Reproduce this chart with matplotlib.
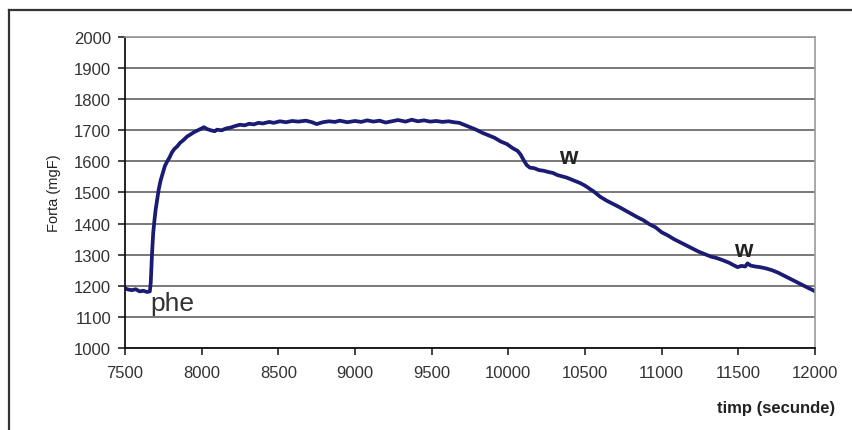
import numpy as np
import matplotlib
matplotlib.use("Agg")
import matplotlib.pyplot as plt
from matplotlib.lines import Line2D

plt.rcParams["font.family"] = ["Liberation Sans", "DejaVu Sans"]

# force trace (time in s, force in mgF), 10 per row
timp = [7500, 7520, 7545, 7570, 7595, 7620, 7645, 7662, 7668, 7676,
        7684, 7692, 7700, 7710, 7720, 7732, 7745, 7760, 7775, 7790,
        7805, 7822, 7840, 7860, 7880, 7905, 7925, 7950, 7975, 8000,
        8015, 8035, 8060, 8085, 8100, 8130, 8160, 8190, 8220, 8250,
        8280, 8310, 8340, 8370, 8400, 8440, 8470, 8510, 8550, 8590,
        8630, 8680, 8720, 8750, 8790, 8830, 8870, 8900, 8950, 9000,
        9040, 9080, 9120, 9160, 9200, 9240, 9280, 9330, 9370, 9410,
        9450, 9490, 9530, 9570, 9610, 9645, 9680, 9710, 9750, 9790,
        9830, 9870, 9910, 9950, 9990, 10030, 10060, 10080, 10100, 10120,
        10140, 10170, 10200, 10230, 10260, 10290, 10320, 10350, 10380, 10410,
        10440, 10470, 10500, 10530, 10560, 10600, 10640, 10680, 10720, 10760,
        10800, 10840, 10880, 10920, 10960, 11000, 11040, 11080, 11120, 11160,
        11200, 11240, 11280, 11320, 11360, 11400, 11440, 11470, 11495, 11520,
        11545, 11560, 11580, 11610, 11640, 11680, 11720, 11760, 11800, 11840,
        11880, 11920, 11960, 11990, 12000]
forta = [1192, 1188, 1186, 1189, 1182, 1184, 1180, 1182, 1210, 1300,
         1370, 1410, 1445, 1478, 1510, 1538, 1560, 1585, 1600, 1612,
         1628, 1640, 1648, 1660, 1668, 1680, 1686, 1694, 1700, 1706,
         1710, 1704, 1700, 1697, 1702, 1700, 1706, 1709, 1714, 1718,
         1716, 1721, 1719, 1724, 1722, 1727, 1724, 1729, 1726, 1730,
         1728, 1731, 1726, 1720, 1726, 1729, 1727, 1731, 1726, 1730,
         1727, 1732, 1728, 1731, 1725, 1729, 1733, 1728, 1734, 1729,
         1732, 1728, 1730, 1727, 1729, 1726, 1724, 1718, 1710, 1702,
         1692, 1684, 1676, 1664, 1656, 1642, 1634, 1622, 1604, 1588,
         1580, 1578, 1572, 1570, 1566, 1563, 1556, 1552, 1548, 1542,
         1536, 1530, 1522, 1512, 1502, 1486, 1474, 1464, 1454, 1443,
         1432, 1421, 1411, 1398, 1388, 1372, 1362, 1350, 1340, 1330,
         1320, 1310, 1302, 1294, 1289, 1282, 1274, 1266, 1260, 1264,
         1262, 1272, 1265, 1262, 1260, 1256, 1250, 1242, 1232, 1222,
         1212, 1202, 1192, 1185, 1182]

ann_text = ["phe", "w", "w"]
ann_t = [7665, 10390, 11530]
ann_f = [1145, 1617, 1318]

fig = plt.figure(figsize=(8.52, 4.31), dpi=100)
fig.patch.set_facecolor("white")
ax = fig.add_axes([0.1467, 0.1903, 0.8099, 0.7215])

ax.plot(timp, forta, color="#1b1b74", lw=2.7, solid_joinstyle="round")

ax.set_xlim(7500, 12000)
ax.set_ylim(1000, 2000)
ax.set_xticks(np.arange(7500, 12001, 500))
ax.set_yticks(np.arange(1000, 2001, 100))
ax.yaxis.grid(True, color="#555555", lw=1.1)
ax.set_axisbelow(True)

for side in ["left", "bottom"]:
    ax.spines[side].set_color("#111111")
    ax.spines[side].set_linewidth(1.3)
for side in ["top", "right"]:
    ax.spines[side].set_color("#999999")
    ax.spines[side].set_linewidth(1.2)
ax.tick_params(direction="out", length=5, width=1.1, color="#111111",
               labelsize=12, labelcolor="#333333", pad=5)
ax.tick_params(axis="x", pad=7)

ax.set_ylabel("Forta (mgF)", fontsize=10.5, color="#222222", labelpad=9)
fig.text(0.98, 0.035, "timp (secunde)", ha="right", va="bottom",
         fontsize=12, fontweight="bold", color="#222222")

ax.text(ann_t[0], ann_f[0], ann_text[0], fontsize=19, color="#333333",
        ha="left", va="center")
for s, t, f in zip(ann_text[1:], ann_t[1:], ann_f[1:]):
    ax.text(t, f, s, fontsize=17, fontweight="bold", color="#222222",
            ha="center", va="center")

# outer chart frame (only left and top edges fall inside the picture)
x0, y0 = 9 / 852, 1 - 11 / 431
fig.add_artist(Line2D([x0, x0], [y0, 0], color="#333333", lw=1.6,
                      transform=fig.transFigure))
fig.add_artist(Line2D([x0, 1], [y0, y0], color="#333333", lw=1.6,
                      transform=fig.transFigure))

fig.savefig("out.png", dpi=100, facecolor="white")
